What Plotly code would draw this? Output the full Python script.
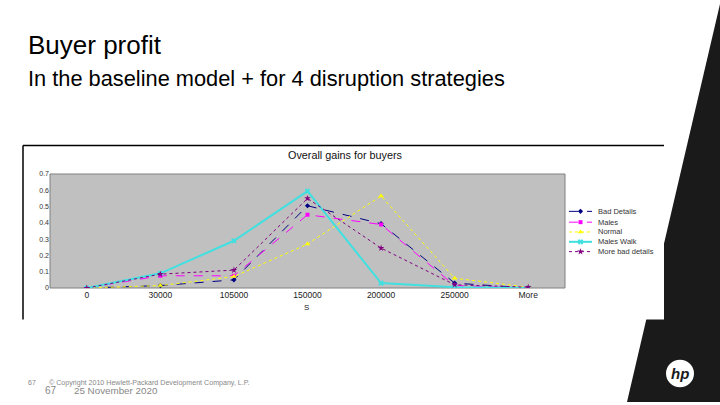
import plotly.graph_objects as go

W, H = 720, 405

categories = ["0", "30000", "105000", "150000", "200000", "250000", "More"]
series_names = ["Bad Details", "Males", "Normal", "Males Walk", "More bad details"]
bad_details = [0, 0.015, 0.05, 0.505, 0.395, 0.03, 0.0]
males = [0, 0.075, 0.075, 0.45, 0.39, 0.015, 0.0]
normal = [0, 0.015, 0.07, 0.27, 0.565, 0.06, 0.005]
males_walk = [0, 0.09, 0.29, 0.595, 0.03, 0.005, 0.0]
more_bad_details = [0, 0.085, 0.11, 0.55, 0.245, 0.02, 0.005]
y_ticks = [0, 0.1, 0.2, 0.3, 0.4, 0.5, 0.6, 0.7]
y_tick_labels = ["0", "0.1", "0.2", "0.3", "0.4", "0.5", "0.6", "0.7"]

series_values = [bad_details, males, normal, males_walk, more_bad_details]
styles = [
    dict(color="#000080", dash="dash", width=1, symbol="diamond", msize=4),
    dict(color="#FF00FF", dash="dash", width=1, symbol="square", msize=4),
    dict(color="#FFFF00", dash="dot", width=1, symbol="triangle-up", msize=5),
    dict(color="#40E0E0", dash="solid", width=2, symbol="x", msize=5),
    dict(color="#800080", dash="dot", width=1, symbol="star", msize=5),
]


def px(x):
    return x / W


def py(y):
    return 1 - y / H


fig = go.Figure()

for name, vals, st in zip(series_names, series_values, styles):
    fig.add_trace(go.Scatter(
        x=categories, y=vals, name=name, mode="lines+markers",
        line=dict(color=st["color"], dash=st["dash"], width=st["width"]),
        marker=dict(symbol=st["symbol"], size=st["msize"], color=st["color"]),
        showlegend=False, xaxis="x", yaxis="y",
    ))

annotations = []

# manual compact legend on a full-figure pixel-space axis pair
legend_y = [211, 222, 232, 242, 252]
for name, st, ly in zip(series_names, styles, legend_y):
    fig.add_trace(go.Scatter(
        x=[569, 592], y=[ly, ly], mode="lines", xaxis="x2", yaxis="y2",
        line=dict(color=st["color"], dash=st["dash"], width=st["width"]),
        showlegend=False, hoverinfo="skip",
    ))
    fig.add_trace(go.Scatter(
        x=[580.5], y=[ly], mode="markers", xaxis="x2", yaxis="y2",
        marker=dict(symbol=st["symbol"], size=st["msize"], color=st["color"]),
        showlegend=False, hoverinfo="skip",
    ))
    annotations.append(dict(x=px(596), y=py(ly), text=name, xanchor="left", yanchor="middle",
                            font=dict(size=7.5, color="#333333", family="Liberation Sans")))

shapes = [
    # dark HP corner polygon
    dict(type="path", xref="paper", yref="paper", layer="below",
         path=f"M {px(720)},{py(0)} L {px(627)},{py(405)} L {px(720)},{py(405)} Z",
         fillcolor="#1a1a1a", line=dict(width=0)),
    # white chart picture
    dict(type="rect", xref="paper", yref="paper", layer="below",
         x0=px(23), x1=px(664), y0=py(321), y1=py(144),
         fillcolor="white", line=dict(width=0)),
    # picture frame top and left lines
    dict(type="line", xref="paper", yref="paper", x0=px(23), x1=px(664),
         y0=py(144), y1=py(144), line=dict(color="black", width=1.5)),
    dict(type="line", xref="paper", yref="paper", x0=px(23), x1=px(23),
         y0=py(144), y1=py(321), line=dict(color="black", width=1.5)),
    # gray plot area
    dict(type="rect", xref="x domain", yref="y domain", layer="below",
         x0=0, x1=1, y0=0, y1=1, fillcolor="#C0C0C0",
         line=dict(color="#808080", width=1)),
    # HP logo circle
    dict(type="circle", xref="paper", yref="paper",
         x0=px(666), x1=px(694), y0=py(390), y1=py(362),
         fillcolor="white", line=dict(width=0)),
]

annotations += [
    dict(x=px(26), y=py(42), text="Buyer profit", xanchor="left", yanchor="middle",
         font=dict(size=26, color="black", family="Liberation Sans")),
    dict(x=px(26), y=py(76), text="In the baseline model + for 4 disruption strategies",
         xanchor="left", yanchor="middle",
         font=dict(size=21.8, color="black", family="Liberation Sans")),
    dict(x=px(345), y=py(154), text="Overall gains for buyers", xanchor="center",
         yanchor="middle", font=dict(size=10.8, color="#111111", family="Liberation Sans")),
    dict(x=px(306), y=py(309), text="S", xanchor="center", yanchor="middle",
         font=dict(size=8, color="#222222", family="Liberation Sans")),
    dict(x=px(26), y=py(385), text="67", xanchor="left", yanchor="middle",
         font=dict(size=7, color="#888888", family="Liberation Sans")),
    dict(x=px(43), y=py(393), text="67", xanchor="left", yanchor="middle",
         font=dict(size=10, color="#888888", family="Liberation Sans")),
    dict(x=px(72), y=py(393), text="25 November 2020", xanchor="left", yanchor="middle",
         font=dict(size=9.8, color="#888888", family="Liberation Sans")),
    dict(x=px(47), y=py(386), text="© Copyright 2010 Hewlett-Packard Development Company, L.P.",
         xanchor="left", yanchor="middle",
         font=dict(size=7.1, color="#888888", family="Liberation Sans")),
    dict(x=px(680), y=py(376), text="<b><i>hp</i></b>", xanchor="center", yanchor="middle",
         font=dict(size=15, color="#1a1a1a", family="Liberation Sans")),
]
for a in annotations:
    a.update(xref="paper", yref="paper", showarrow=False)

fig.update_layout(
    width=W, height=H,
    margin=dict(l=0, r=0, t=0, b=0),
    paper_bgcolor="white", plot_bgcolor="rgba(0,0,0,0)",
    showlegend=False, hovermode=False,
    shapes=shapes, annotations=annotations,
    font=dict(family="Liberation Sans"),
    xaxis=dict(domain=[px(50), px(565)], type="category", categoryorder="array",
               categoryarray=categories, range=[-0.5, 6.5],
               showgrid=False, zeroline=False, showline=False, ticks="",
               tickfont=dict(size=8.5, color="#222222")),
    yaxis=dict(domain=[py(289), py(173)], range=[0, 0.7], tickvals=y_ticks,
               ticktext=y_tick_labels, showgrid=False, zeroline=False,
               showline=False, ticks="", tickfont=dict(size=7, color="#333333")),
    xaxis2=dict(domain=[0, 1], range=[0, W], visible=False, anchor="y2"),
    yaxis2=dict(domain=[0, 1], range=[H, 0], visible=False, anchor="x2"),
)

fig.write_html("out.html", config={"displayModeBar": False},
               post_script="document.body.style.margin='0';")
